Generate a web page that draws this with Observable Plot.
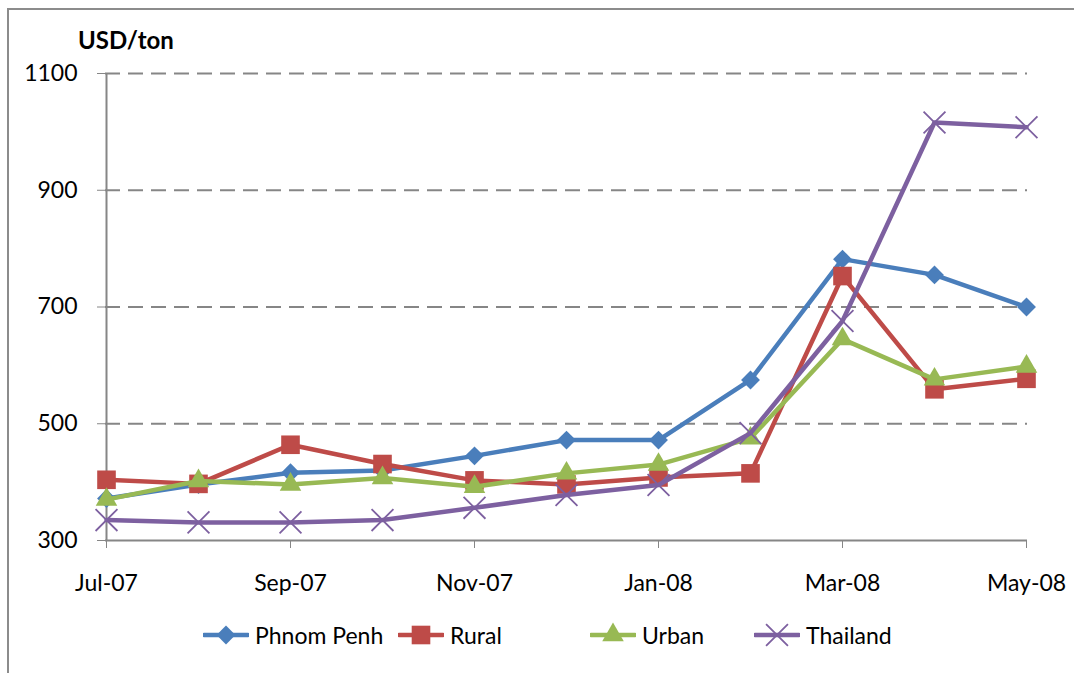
<!DOCTYPE html>
<html><head><meta charset="utf-8">
<script src="https://cdn.jsdelivr.net/npm/d3@7"></script>
<script src="https://cdn.jsdelivr.net/npm/@observablehq/plot@0.6"></script>
<style>
body{margin:0;background:#fff;font-family:Lato,"Open Sans",sans-serif;}
#wrap{position:relative;width:1074px;height:673px;overflow:hidden;background:#fff;}
#frame{position:absolute;left:7px;top:8px;width:1200px;height:800px;border-left:2px solid #8c8c8c;border-top:2px solid #8c8c8c;}
#ylab{position:absolute;left:78px;top:25px;font-weight:bold;font-size:24px;color:#000;}
#chart{position:absolute;left:0;top:0;}
#legend{position:absolute;top:621px;left:0;width:1074px;height:30px;font-size:23px;color:#000;white-space:nowrap;}
.item{position:absolute;top:0;display:flex;align-items:center;}
.item svg{margin-right:6px;}
</style></head>
<body><div id="wrap"><div id="frame"></div><div id="chart"></div><div id="ylab">USD/ton</div><div id="legend"></div></div>
<script>
const months = ["Jul-07","Aug-07","Sep-07","Oct-07","Nov-07","Dec-07","Jan-08","Feb-08","Mar-08","Apr-08","May-08"];
const xTicks = ["Jul-07","Sep-07","Nov-07","Jan-08","Mar-08","May-08"];
const yTicks = [300,500,700,900,1100];
const seriesNames = ["Phnom Penh","Rural","Urban","Thailand"];
const phnomPenh = [372,396,416,420,445,472,472,575,782,755,700];
const rural     = [404,397,464,431,403,396,408,415,753,559,577];
const urban     = [370,402,396,407,392,415,430,475,645,576,598];
const thailand  = [335,331,331,335,356,378,395,484,676,1016,1008];
const colors  = ["#4a7ebb","#be4b48","#98b954","#7d60a0"];
const symbols = ["diamond2","square","triangle","times"];
const radii   = [8.5,10.5,8,10];
const legendLeft = [203,398,590,754];

const valuesBySeries = [phnomPenh, rural, urban, thailand];
const data = valuesBySeries.flatMap((vals,s)=>vals.map((v,i)=>({month:months[i], value:v, series:seriesNames[s]})));

const marks = [
  Plot.gridY(yTicks.filter(d=>d>300), {stroke:"#868686", strokeOpacity:1, strokeWidth:2, strokeDasharray:"15,8"}),
  Plot.ruleX([months[0]], {stroke:"#868686", strokeWidth:2}),
  Plot.ruleY([300], {stroke:"#868686", strokeWidth:2}),
  Plot.axisY({ticks:yTicks, tickFormat:d=>String(d), tickSize:8, tickPadding:20, stroke:"#868686", label:null, fontSize:23}),
  Plot.axisX({ticks:xTicks, tickSize:8, tickPadding:26, stroke:"#868686", label:null, fontSize:23})
];
seriesNames.forEach((name,s)=>{
  const sub = data.filter(d=>d.series===name);
  marks.push(Plot.line(sub, {x:"month", y:"value", stroke:colors[s], strokeWidth:4.5, strokeLinejoin:"round"}));
  if (symbols[s]==="times") {
    marks.push(Plot.dot(sub, {x:"month", y:"value", symbol:symbols[s], r:radii[s], stroke:colors[s], strokeWidth:1.8}));
  } else {
    marks.push(Plot.dot(sub, {x:"month", y:"value", symbol:symbols[s], r:radii[s], fill:colors[s], stroke:"none"}));
  }
});

const chart = Plot.plot({
  width:1074, height:610,
  marginLeft:105, marginRight:47, marginTop:73, marginBottom:70,
  style:{fontFamily:"Lato, 'Open Sans', sans-serif", fontSize:"23px", color:"#000", background:"transparent", overflow:"visible"},
  x:{type:"point", domain:months, padding:0},
  y:{domain:[300,1100]},
  marks
});
document.getElementById("chart").appendChild(chart);

// legend
const leg = d3.select("#legend");
const symMap = {diamond2:d3.symbolDiamond2, square:d3.symbolSquare, triangle:d3.symbolTriangle, times:d3.symbolTimes};
seriesNames.forEach((name,s)=>{
  const it = leg.append("div").attr("class","item").style("left", legendLeft[s]+"px");
  const svg = it.append("svg").attr("width",46).attr("height",26);
  svg.append("line").attr("x1",1).attr("x2",45).attr("y1",13).attr("y2",13).attr("stroke",colors[s]).attr("stroke-width",4.5).attr("stroke-linecap","round");
  const size = Math.PI*radii[s]*radii[s];
  const p = svg.append("path").attr("transform","translate(23,13)").attr("d", d3.symbol(symMap[symbols[s]], size)());
  if (symbols[s]==="times") p.attr("fill","none").attr("stroke",colors[s]).attr("stroke-width",1.8);
  else p.attr("fill",colors[s]);
  it.append("span").text(name);
});
</script></body></html>
